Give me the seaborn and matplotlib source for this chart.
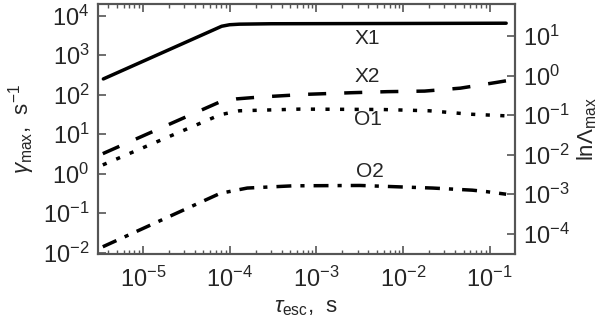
import numpy as np
import pandas as pd
import matplotlib
matplotlib.use("Agg")
import matplotlib.pyplot as plt
from matplotlib.ticker import NullLocator, LogLocator
import seaborn as sns

# escape time (s) and growth rates (s^-1)
tau_x1 = [3.5e-6, 8.1e-5, 1.0e-4, 1.3e-4, 3.0e-4, 1.0e-2, 0.155]
gam_x1 = [250, 5400, 5900, 6100, 6250, 6350, 6450]

tau_x2 = [3.45e-6, 7.8e-5, 1.2e-4, 2.24e-4, 7.8e-4, 2.6e-3, 6.6e-3, 1.78e-2, 4.6e-2, 0.12, 0.155]
gam_x2 = [3.2, 66, 78, 87, 102, 112, 119, 123, 146, 204, 224]

tau_o1 = [3.45e-6, 7.8e-5, 1.3e-4, 6.5e-4, 5.8e-3, 2.0e-2, 5.9e-2, 0.155]
gam_o1 = [1.66, 31, 39, 43, 42, 39, 32, 29]

tau_o2 = [3.45e-6, 7.8e-5, 1.6e-4, 5.4e-4, 3.2e-3, 2.2e-2, 6.3e-2, 9.1e-2, 0.155]
gam_o2 = [0.014, 0.316, 0.43, 0.49, 0.50, 0.43, 0.38, 0.35, 0.30]

labels = ["X1", "X2", "O1", "O2"]
offset = 10 ** 2.48  # gamma / lnLambda

sns.set_style("ticks")
plt.rcParams["font.family"] = ["Liberation Sans", "DejaVu Sans"]
plt.rcParams["mathtext.fontset"] = "custom"
plt.rcParams["mathtext.rm"] = "Liberation Sans"
plt.rcParams["mathtext.it"] = "Liberation Sans:italic"

fig = plt.figure(figsize=(6, 3.21), dpi=100)
ax = fig.add_axes([0.163, 0.209, 0.695, 0.779])
ax.set_xscale("log")
ax.set_yscale("log")

styles = [
    (tau_x1, gam_x1, "-"),
    (tau_x2, gam_x2, (0, (5.2, 5.2))),
    (tau_o1, gam_o1, (0, (1.2, 3.0))),
    (tau_o2, gam_o2, (0, (4.3, 2.6, 1.2, 2.6))),
]
for t, g, ls in styles:
    df = pd.DataFrame({"tau": t, "gamma": g})
    sns.lineplot(data=df, x="tau", y="gamma", ax=ax, color="black",
                 linewidth=2.5, linestyle=ls, errorbar=None)

ax.set_xlim(10 ** -5.52, 10 ** -0.71)
ylo, yhi = 10 ** -2.035, 10 ** 4.30
ax.set_ylim(ylo, yhi)
ax.yaxis.set_major_locator(LogLocator(base=10, numticks=20))
ax.yaxis.set_minor_locator(NullLocator())

ax2 = ax.twinx()
ax2.set_yscale("log")
ax2.set_ylim(ylo / offset, yhi / offset)
ax2.yaxis.set_major_locator(LogLocator(base=10, numticks=20))
ax2.yaxis.set_minor_locator(NullLocator())

spine_col = "#555555"
for a in (ax, ax2):
    for s in a.spines.values():
        s.set_color(spine_col)
        s.set_linewidth(1.5)
ax.tick_params(which="both", direction="in", top=True, right=False,
               color=spine_col, labelsize=17, pad=6)
ax.tick_params(axis="x", pad=9)
ax.tick_params(which="major", length=6, width=1.2)
ax.tick_params(which="minor", length=3, width=1.0)
ax2.tick_params(which="both", direction="in", left=False, right=True,
                color=spine_col, labelsize=17, pad=6, length=6, width=1.2)

pos = [(0.647, 0.86), (0.647, 0.708), (0.647, 0.536), (0.652, 0.328)]
for lab, (px, py) in zip(labels, pos):
    ax.text(px, py, lab, transform=ax.transAxes, ha="center", va="center",
            fontsize=15)

ax.set_xlabel(r"$\tau_{\rm esc}$,  s", fontsize=16, labelpad=4)
ax.set_ylabel(r"$\gamma_{\rm max}$,  s$^{-1}$", fontsize=16, labelpad=4)
ax2.set_ylabel(r"ln$\Lambda_{\rm max}$", fontsize=16, labelpad=4)

fig.savefig("out.png", dpi=100)
